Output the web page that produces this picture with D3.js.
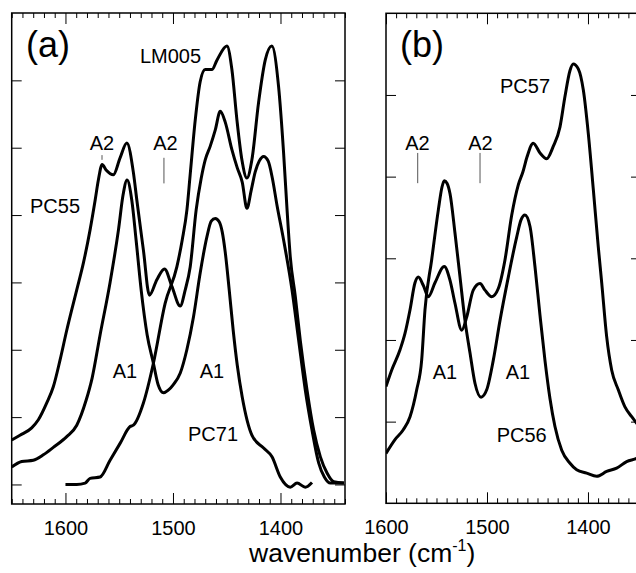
<!DOCTYPE html>
<html>
<head>
<meta charset="utf-8">
<script src="https://cdnjs.cloudflare.com/ajax/libs/d3/7.8.5/d3.min.js"></script>
<style>
  body { margin: 0; background: #fff; }
  text { font-family: Arial, "Liberation Sans", sans-serif; fill: #000; }
</style>
</head>
<body>
<script>
// spectra: [wavenumber, absorbance (tick units)]
const pc55 = [[1650,0.66],[1642.3,0.73],[1631.4,0.84],[1625.2,0.96],[1617.4,1.21],[1611.3,1.45],[1605,1.85],[1598.8,2.29],
  [1589.5,2.89],[1583.3,3.29],[1577.1,3.78],[1572.4,4.22],[1569.4,4.52],[1565.9,4.75],[1562.2,4.67],[1555.4,4.6],
  [1549.2,4.85],[1542.9,5.07],[1536.8,4.63],[1533.6,4.22],[1527.5,3.48],[1521.9,2.81],[1515,3.04],[1507.9,3.2],
  [1501,2.94],[1493.3,2.65],[1488.6,2.89],[1484,3.23],[1478.4,4.08],[1473.7,4.55],[1470,4.82],[1465.4,5.02],
  [1460.7,5.26],[1456,5.54],[1451.4,5.38],[1445.2,4.97],[1440.2,4.7],[1435.6,4.49],[1431.2,4.1],[1427.2,4.37],
  [1423.5,4.64],[1419.8,4.8],[1415.7,4.87],[1411.4,4.8],[1407.6,4.55],[1403.3,4.15],[1397.1,3.63],[1389.3,2.89],
  [1383.1,2.14],[1376.9,1.4],[1370.7,0.81],[1364.5,0.32],[1359.2,0.11],[1353.6,0.02],[1345.9,0.02],[1341,0.02]];

const lm005 = [[1600,0],[1589.5,0],[1581.7,0.02],[1577.1,0.09],[1567.8,0.11],[1558.5,0.36],[1549.2,0.61],[1539.9,0.86],
  [1536.8,0.88],[1527.5,1.21],[1518.2,1.8],[1507.3,2.69],[1496.4,3.23],[1491.4,3.63],[1487,4.08],[1484,4.6],
  [1479.3,5.41],[1474.7,5.98],[1470,6.16],[1463.8,6.16],[1459.1,6.3],[1449.8,6.51],[1445.2,6.16],[1440.5,5.41],
  [1435.9,4.82],[1431.2,4.55],[1426.6,4.82],[1420.4,5.67],[1414.2,6.3],[1408.1,6.51],[1401.8,5.91],[1397.1,4.92],
  [1393.9,4.08],[1390.9,3.38],[1386.2,2.79],[1381.6,2.14],[1375.3,1.4],[1369.2,0.81],[1362.9,0.41],[1356.7,0.17],
  [1350.5,0.04],[1341,0.02]];

const pc71 = [[1650,0.26],[1640.7,0.34],[1629.9,0.36],[1620.6,0.44],[1611.3,0.55],[1598.8,0.71],[1589.5,0.88],
  [1580.8,1.25],[1575.2,1.58],[1567.8,2.22],[1558.5,3.0],[1550.7,3.78],[1546.4,4.3],[1542.7,4.52],[1538.3,4.22],
  [1534.3,3.63],[1529.6,2.89],[1524,2.22],[1518.2,1.8],[1513.8,1.48],[1508.8,1.36],[1504.4,1.4],[1499.8,1.48],
  [1493.3,1.65],[1487.1,2.0],[1480.9,2.49],[1474.7,3.14],[1468.4,3.68],[1464.4,3.91],[1460.7,3.95],[1457,3.9],
  [1454.2,3.75],[1451.4,3.45],[1447.7,2.89],[1444,2.29],[1440.2,1.77],[1435.6,1.3],[1426.5,0.73],[1415.7,0.54],
  [1407.9,0.41],[1400.2,0.11],[1390.9,-0.04],[1384.6,0.02],[1376.9,-0.04],[1370.7,0.03]];

const pc57 = [[1600,1.43],[1594.4,1.63],[1586.1,1.88],[1581.2,2.08],[1576.2,2.37],[1571.3,2.7],[1568,2.77],
  [1563.1,2.67],[1558.1,2.53],[1551.5,2.7],[1542.3,2.9],[1536.6,2.73],[1531.7,2.45],[1525,2.12],[1520.1,2.28],
  [1513.6,2.61],[1506.9,2.69],[1502,2.61],[1495.3,2.53],[1488.8,2.63],[1482.2,2.98],[1475.5,3.53],[1469,3.9],
  [1464.4,4.06],[1460.4,4.24],[1454.2,4.41],[1447.5,4.29],[1440.9,4.22],[1434.4,4.37],[1427.7,4.61],[1422.8,4.98],
  [1417.8,5.3],[1414.6,5.38],[1409.6,5.32],[1404.6,5.06],[1399.7,4.53],[1394.7,3.84],[1389.8,3.14],[1386.4,2.7],
  [1381.5,2.04],[1376.5,1.63],[1370,1.39],[1363.4,1.18],[1356.7,1.06],[1351.8,0.98],[1347.5,0.92]];

const pc56 = [[1600,0.61],[1591.1,0.78],[1582.9,0.9],[1576.2,1.06],[1569.6,1.39],[1564.7,1.75],[1561.4,2.37],
  [1554.8,2.98],[1548.2,3.59],[1544.6,3.87],[1542.3,3.95],[1539.6,3.92],[1536.6,3.79],[1531.7,3.31],[1526.7,2.77],
  [1521.8,2.24],[1516.8,1.84],[1511.9,1.47],[1505.9,1.3],[1500.3,1.39],[1493.8,1.75],[1487.1,2.24],[1478.9,2.77],
  [1470.6,3.26],[1466.3,3.47],[1462.4,3.53],[1457.4,3.39],[1452.5,2.9],[1447.5,2.3],[1442.6,1.75],[1437.6,1.28],
  [1432.7,0.94],[1426,0.65],[1417.8,0.49],[1411.2,0.41],[1401.3,0.37],[1391.4,0.33],[1381.5,0.39],[1371.6,0.43],
  [1361.7,0.51],[1351.8,0.55],[1347.5,0.58]];

const majorTicks = [1600, 1500, 1400];

let svg = d3.select('body').append('svg')
    .attr('width', 636)
    .attr('height', 573);

function drawPanel(p) {
  let x = d3.scaleLinear().domain(p.xDomain).range([p.left, p.right]);
  let y = d3.scaleLinear().domain(p.yDomain).range([p.bottom, p.top]);
  let g = svg.append('g');

  g.append('clipPath').attr('id', 'clip-' + p.name)
    .append('rect')
      .attr('x', p.left).attr('y', p.top)
      .attr('width', p.right - p.left).attr('height', p.bottom - p.top);

  let lo = Math.min(...p.xDomain), hi = Math.max(...p.xDomain);
  let minor = d3.range(Math.ceil(lo / 10) * 10, hi + 0.1, 10).filter(d => d % 100 !== 0);

  function style(a) {
    a.select('.domain').remove();
    a.selectAll('line').attr('stroke-width', 1);
    a.selectAll('text').attr('font-size', 20).attr('font-family', 'Arial, "Liberation Sans", sans-serif');
  }

  // x ticks, bottom and top, pointing inward
  g.append('g').attr('transform', 'translate(0,' + p.bottom + ')')
    .call(d3.axisBottom(x).tickValues(minor).tickSize(-5).tickFormat(''))
    .call(style);
  g.append('g').attr('transform', 'translate(0,' + p.bottom + ')')
    .call(d3.axisBottom(x).tickValues(majorTicks).tickSize(-11).tickPadding(17).tickFormat(d3.format('d')))
    .call(style);
  g.append('g').attr('transform', 'translate(0,' + p.top + ')')
    .call(d3.axisTop(x).tickValues(minor).tickSize(-5).tickFormat(''))
    .call(style);
  g.append('g').attr('transform', 'translate(0,' + p.top + ')')
    .call(d3.axisTop(x).tickValues(majorTicks).tickSize(-11).tickFormat(''))
    .call(style);

  // y ticks, no labels
  g.append('g').attr('transform', 'translate(' + p.left + ',0)')
    .call(d3.axisLeft(y).tickValues(p.yTicks).tickSize(-10).tickFormat(''))
    .call(style);
  g.append('g').attr('transform', 'translate(' + p.right + ',0)')
    .call(d3.axisRight(y).tickValues(p.yTicks).tickSize(-10).tickFormat(''))
    .call(style);

  g.append('rect')
    .attr('x', p.left).attr('y', p.top)
    .attr('width', p.right - p.left).attr('height', p.bottom - p.top)
    .attr('fill', 'none').attr('stroke', '#000').attr('stroke-width', 1.5);

  let line = d3.line()
    .x(d => x(d[0]))
    .y(d => y(d[1]))
    .curve(d3.curveMonotoneX);

  g.append('g').attr('clip-path', 'url(#clip-' + p.name + ')')
    .selectAll('path').data(p.series).enter().append('path')
      .attr('d', d => line(d))
      .attr('fill', 'none')
      .attr('stroke', '#000')
      .attr('stroke-width', 3)
      .attr('stroke-linejoin', 'round');

  // A2 markers
  g.selectAll('.marker').data(p.markers).enter().append('line')
      .attr('x1', d => x(d.wn)).attr('x2', d => x(d.wn))
      .attr('y1', d => y(d.from)).attr('y2', d => y(d.to))
      .attr('stroke', '#555').attr('stroke-width', 1);

  g.selectAll('.label').data(p.labels).enter().append('text')
      .attr('x', d => x(d.wn))
      .attr('y', d => y(d.v))
      .attr('text-anchor', d => d.anchor || 'start')
      .attr('font-size', d => d.size || 20)
      .text(d => d.text);
}

drawPanel({
  name: 'a', left: 11.7, right: 345, top: 13, bottom: 504,
  xDomain: [1650, 1340], yDomain: [-0.29, 7], yTicks: [0, 1, 2, 3, 4, 5, 6],
  series: [pc55, lm005, pc71],
  markers: [{wn: 1566, from: 4.89, to: 4.82}, {wn: 1508.4, from: 4.85, to: 4.47}],
  labels: [
    {text: '(a)', wn: 1636.7, v: 6.35, size: 36},
    {text: 'LM005', wn: 1530.7, v: 6.26},
    {text: 'A2', wn: 1566, v: 4.97, anchor: 'middle'},
    {text: 'A2', wn: 1507, v: 4.97, anchor: 'middle'},
    {text: 'PC55', wn: 1633, v: 4.03},
    {text: 'A1', wn: 1544.6, v: 1.58, anchor: 'middle'},
    {text: 'A1', wn: 1463.7, v: 1.58, anchor: 'middle'},
    {text: 'PC71', wn: 1486, v: 0.64}
  ]
});

drawPanel({
  name: 'b', left: 386, right: 641, top: 13.3, bottom: 503.3,
  xDomain: [1600, 1347.5], yDomain: [0, 6], yTicks: [1, 2, 3, 4, 5],
  series: [pc57, pc56],
  markers: [{wn: 1568.6, from: 4.29, to: 3.92}, {wn: 1506.9, from: 4.29, to: 3.92}],
  labels: [
    {text: '(b)', wn: 1586.1, v: 5.47, size: 36},
    {text: 'PC57', wn: 1487.1, v: 5.02},
    {text: 'A2', wn: 1568.8, v: 4.33, anchor: 'middle'},
    {text: 'A2', wn: 1506.4, v: 4.33, anchor: 'middle'},
    {text: 'A1', wn: 1541.6, v: 1.52, anchor: 'middle'},
    {text: 'A1', wn: 1469.3, v: 1.52, anchor: 'middle'},
    {text: 'PC56', wn: 1490.4, v: 0.75}
  ]
});

// shared axis title
let title = svg.append('text')
    .attr('x', 249)
    .attr('y', 562)
    .attr('font-size', 26.5)
    .text('wavenumber (cm');
title.append('tspan')
    .attr('font-size', 16)
    .attr('dy', -11)
    .text('-1');
title.append('tspan')
    .attr('dy', 11)
    .text(')');
</script>
</body>
</html>
